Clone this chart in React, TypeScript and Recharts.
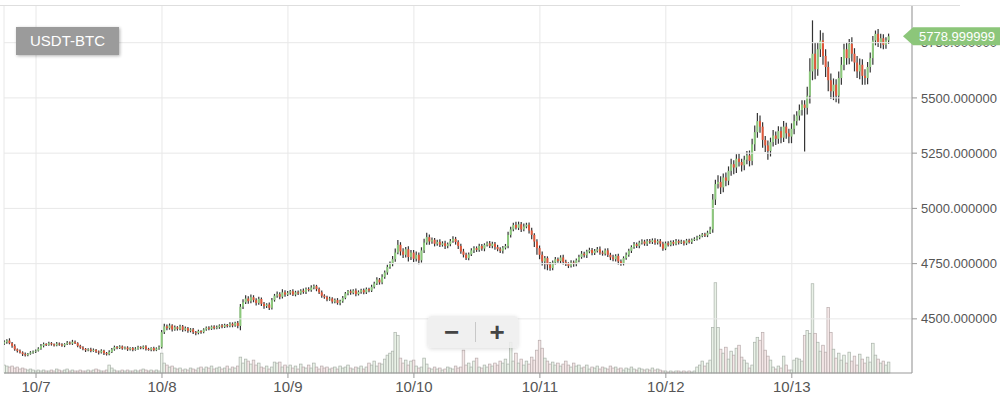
import { ComposedChart, Bar, XAxis, YAxis, CartesianGrid, ReferenceLine } from 'recharts'

// 30-minute candles, first one at 10/6 18:00 (hour -6 relative to 10/7 00:00)
const pair = 'USDT-BTC'
const lastPrice = 5778.999999
const firstOpen = 4388
const startHour = -6
const stepHours = 0.5

const dayTicks = [0, 24, 48, 72, 96, 120, 144]
const dayLabels = ['10/7', '10/8', '10/9', '10/10', '10/11', '10/12', '10/13']
const priceTicks = [4500, 4750, 5000, 5250, 5500, 5750]

const closeOct6 = [4395, 4402, 4390, 4378, 4362, 4355, 4348, 4340, 4336, 4342, 4348, 4352]
const closeOct7 = [
  4356, 4365, 4378, 4386, 4382, 4390, 4385, 4380, 4388, 4384, 4379, 4386, 4392, 4388, 4396, 4390,
  4378, 4370, 4364, 4358, 4362, 4355, 4360, 4352, 4348, 4356, 4345, 4340, 4350, 4362, 4372, 4368,
  4375, 4366, 4370, 4362, 4368, 4360, 4365, 4372, 4368, 4375, 4364, 4360, 4368, 4358, 4366, 4372,
]
const closeOct8 = [
  4440, 4466, 4458, 4470, 4452, 4462, 4455, 4466, 4450, 4458, 4446, 4452, 4440, 4436, 4445, 4440,
  4452, 4460, 4455, 4465, 4458, 4462, 4470, 4464, 4472, 4468, 4478, 4470, 4482, 4468, 4555, 4575,
  4592, 4580, 4598, 4585, 4572, 4590, 4568, 4558, 4565, 4550, 4585, 4605, 4612, 4600, 4620, 4610,
]
const closeOct9 = [
  4618, 4625, 4610, 4620, 4615, 4628, 4622, 4635, 4630, 4642, 4648, 4635, 4620, 4605, 4598, 4588,
  4592, 4578, 4585, 4572, 4580, 4595, 4615, 4625, 4618, 4628, 4612, 4622, 4630, 4620, 4635, 4628,
  4645, 4660, 4678, 4665, 4690, 4710, 4735, 4748, 4770, 4800, 4835, 4805, 4790, 4815, 4780, 4800,
]
const closeOct10 = [
  4772, 4790, 4765, 4810, 4845, 4870, 4850, 4858, 4840, 4848, 4835, 4842, 4830, 4838, 4852, 4862,
  4848, 4830, 4805, 4790, 4775, 4792, 4810, 4820, 4812, 4830, 4818, 4835, 4842, 4830, 4840, 4825,
  4815, 4808, 4822, 4830, 4880, 4905, 4925, 4912, 4928, 4905, 4918, 4926, 4900, 4880, 4850, 4820,
]
const closeOct11 = [
  4790, 4760, 4775, 4745, 4730, 4755, 4770, 4762, 4778, 4758, 4748, 4740, 4755, 4748, 4765, 4780,
  4795, 4788, 4805, 4812, 4798, 4808, 4815, 4800, 4795, 4810, 4790, 4778, 4770, 4785, 4760, 4752,
  4775, 4790, 4808, 4825, 4838, 4830, 4845, 4850, 4840, 4852, 4848, 4856, 4845, 4852, 4840, 4818,
]
const closeOct12 = [
  4842, 4835, 4848, 4840, 4852, 4845, 4850, 4842, 4855, 4848, 4858, 4862, 4868, 4875, 4882, 4878,
  4890, 4905, 5040, 5110, 5120, 5095, 5140, 5125, 5170, 5200, 5185, 5225, 5210, 5195, 5220, 5240,
  5215, 5290, 5345, 5395, 5370, 5310, 5285, 5260, 5300, 5330, 5315, 5350, 5320, 5370, 5340, 5325,
]
const closeOct13 = [
  5360, 5395, 5420, 5445, 5470, 5455, 5510, 5620, 5700, 5630, 5720, 5760, 5690, 5640, 5580, 5530,
  5560, 5510, 5590, 5650, 5720, 5680, 5745, 5700, 5660, 5620, 5650, 5600, 5590, 5640, 5680, 5760,
  5790, 5750, 5770, 5740, 5760, 5779,
]

// wick length above / below the body
const wickUpOct6 = [8, 6, 10, 5, 7, 4, 6, 5, 8, 4, 6, 5]
const wickUpOct7 = [
  5, 6, 8, 7, 4, 6, 5, 4, 7, 5, 6, 4, 8, 5, 9, 6, 4, 5, 6, 4, 5, 7, 6, 4,
  5, 6, 4, 5, 8, 6, 7, 5, 6, 4, 5, 6, 4, 5, 7, 6, 4, 5, 6, 5, 4, 6, 5, 7,
]
const wickUpOct8 = [
  10, 12, 8, 9, 6, 8, 5, 7, 6, 8, 5, 6, 7, 5, 6, 4, 6, 5, 7, 5, 6, 8, 5, 7,
  6, 5, 7, 6, 5, 8, 12, 14, 15, 10, 12, 9, 8, 10, 7, 8, 6, 9, 10, 8, 12, 9, 14, 10,
]
const wickUpOct9 = [
  8, 6, 9, 7, 8, 6, 9, 7, 8, 10, 8, 6, 7, 8, 6, 7, 8, 6, 7, 9, 6, 8, 7, 6,
  8, 6, 9, 7, 6, 8, 7, 6, 9, 8, 10, 7, 12, 9, 10, 12, 14, 18, 22, 12, 15, 10, 14, 12,
]
const wickUpOct10 = [
  12, 15, 10, 14, 18, 20, 12, 10, 8, 10, 12, 9, 11, 8, 10, 12, 9, 8, 10, 12, 9, 8, 10, 9,
  8, 10, 9, 7, 8, 10, 9, 8, 10, 9, 8, 9, 14, 12, 10, 15, 12, 10, 14, 9, 10, 12, 8, 10,
]
const wickUpOct11 = [
  12, 15, 10, 8, 12, 9, 10, 8, 10, 12, 9, 8, 10, 9, 8, 10, 12, 9, 8, 10, 9, 8, 10, 12,
  9, 8, 10, 9, 12, 8, 10, 9, 8, 10, 9, 8, 10, 8, 9, 10, 8, 9, 10, 8, 9, 8, 10, 9,
]
const wickUpOct12 = [
  8, 9, 7, 8, 9, 7, 8, 6, 7, 8, 6, 7, 8, 6, 7, 8, 9, 12, 25, 20, 30, 25, 18, 22,
  20, 25, 18, 20, 22, 15, 18, 20, 22, 25, 30, 37, 25, 20, 18, 22, 20, 25, 18, 22, 20, 25, 18, 20,
]
const wickUpOct13 = [
  25, 30, 20, 25, 20, 20, 40, 60, 151, 50, 30, 46, 35, 30, 25, 30, 28, 25, 30, 35, 25, 30, 22, 30,
  25, 30, 28, 25, 30, 22, 25, 20, 15, 22, 20, 18, 15, 12,
]

const wickDnOct6 = [6, 8, 5, 9, 6, 7, 5, 8, 6, 5, 4, 6]
const wickDnOct7 = [
  6, 4, 5, 7, 5, 4, 6, 5, 4, 6, 5, 7, 4, 5, 6, 4, 7, 5, 6, 8, 5, 6, 4, 7,
  9, 5, 8, 6, 5, 4, 6, 5, 4, 6, 5, 7, 5, 6, 4, 5, 6, 5, 7, 4, 6, 5, 4, 6,
]
const wickDnOct8 = [
  6, 8, 10, 7, 9, 6, 8, 7, 8, 6, 9, 7, 8, 10, 6, 7, 5, 6, 7, 5, 6, 5, 7, 6,
  5, 7, 6, 8, 6, 10, 20, 10, 8, 12, 9, 10, 12, 8, 10, 12, 9, 10, 8, 7, 9, 11, 8, 10,
]
const wickDnOct9 = [
  7, 9, 6, 8, 7, 6, 8, 9, 6, 7, 8, 10, 8, 9, 7, 8, 6, 9, 7, 8, 10, 7, 6, 8,
  9, 7, 10, 6, 8, 9, 7, 8, 6, 8, 7, 10, 8, 9, 10, 8, 10, 12, 8, 18, 15, 12, 20, 14,
]
const wickDnOct10 = [
  15, 12, 18, 10, 12, 9, 14, 10, 12, 9, 10, 8, 14, 10, 9, 8, 12, 14, 10, 12, 9, 10, 8, 12,
  9, 8, 10, 12, 8, 9, 10, 12, 9, 10, 12, 8, 10, 12, 9, 8, 10, 12, 9, 8, 14, 20, 25, 30,
]
const wickDnOct11 = [
  20, 18, 35, 25, 12, 10, 9, 8, 10, 12, 9, 10, 8, 12, 10, 9, 8, 10, 12, 8, 10, 9, 8, 10,
  9, 8, 10, 12, 9, 10, 14, 12, 10, 8, 9, 10, 8, 9, 10, 8, 9, 10, 8, 9, 10, 8, 14, 10,
]
const wickDnOct12 = [
  7, 8, 6, 9, 7, 8, 6, 10, 8, 7, 9, 6, 7, 8, 6, 7, 8, 6, 15, 25, 20, 30, 22, 25,
  20, 22, 30, 25, 20, 28, 22, 20, 25, 20, 30, 25, 28, 35, 30, 40, 25, 20, 28, 22, 25, 20, 25, 30,
]
const wickDnOct13 = [
  30, 25, 20, 22, 25, 198, 30, 35, 40, 45, 30, 35, 40, 45, 50, 35, 40, 30, 35, 30, 25, 30, 28, 35,
  40, 30, 35, 40, 30, 28, 25, 30, 22, 20, 25, 20, 18, 15,
]

const volOct6 = [8, 7, 6, 7, 5, 6, 4, 5, 4, 3, 4, 3]
const volOct7 = [
  2, 3, 2, 3, 2, 2, 3, 2, 4, 3, 2, 3, 4, 2, 3, 2, 2, 3, 2, 2, 3, 2, 3, 4,
  3, 2, 2, 3, 8, 5, 3, 2, 2, 3, 2, 3, 2, 2, 3, 2, 3, 4, 3, 2, 3, 2, 3, 2,
]
const volOct8 = [
  20, 10, 8, 6, 7, 5, 4, 5, 3, 4, 3, 5, 4, 3, 5, 6, 4, 6, 5, 7, 4, 5, 6, 4,
  5, 7, 4, 6, 5, 7, 16, 10, 14, 12, 9, 13, 8, 10, 6, 5, 7, 4, 6, 11, 10, 11, 6, 8,
]
const volOct9 = [
  6, 8, 5, 7, 4, 9, 6, 5, 8, 5, 10, 6, 4, 7, 5, 6, 4, 5, 6, 4, 7, 5, 6, 8,
  5, 4, 6, 5, 7, 4, 6, 10, 8, 12, 7, 10, 9, 14, 18, 20, 22, 41, 38, 15, 10, 13, 8, 12,
]
const volOct10 = [
  13, 7, 5, 6, 15, 9, 5, 4, 6, 4, 5, 3, 4, 6, 5, 4, 7, 5, 6, 23, 8, 10, 6, 12,
  15, 6, 5, 8, 6, 9, 7, 10, 8, 12, 10, 14, 9, 31, 12, 20, 10, 14, 8, 12, 9, 16, 13, 23,
]
const volOct11 = [
  33, 25, 15, 12, 9, 11, 8, 10, 7, 9, 12, 8, 6, 10, 7, 8, 5, 6, 8, 4, 6, 5, 7, 4,
  6, 5, 4, 7, 5, 6, 4, 5, 3, 5, 4, 6, 4, 3, 5, 4, 3, 4, 3, 5, 3, 4, 3, 2,
]
const volOct12 = [
  2, 1, 2, 1, 2, 2, 1, 2, 1, 2, 1, 2, 6, 8, 12, 7, 10, 13, 46, 91, 46, 24, 20, 26,
  14, 22, 18, 25, 28, 16, 13, 10, 5, 8, 31, 36, 33, 41, 23, 17, 13, 6, 4, 7, 5, 17, 8, 3,
]
const volOct13 = [
  3, 13, 15, 14, 12, 38, 43, 40, 90, 40, 31, 22, 28, 21, 66, 41, 24, 15, 20, 13, 18, 10, 21, 12,
  17, 8, 19, 14, 10, 16, 11, 30, 18, 14, 10, 12, 8, 11,
]

const closes = [...closeOct6, ...closeOct7, ...closeOct8, ...closeOct9, ...closeOct10, ...closeOct11, ...closeOct12, ...closeOct13]
const wickUp = [...wickUpOct6, ...wickUpOct7, ...wickUpOct8, ...wickUpOct9, ...wickUpOct10, ...wickUpOct11, ...wickUpOct12, ...wickUpOct13]
const wickDn = [...wickDnOct6, ...wickDnOct7, ...wickDnOct8, ...wickDnOct9, ...wickDnOct10, ...wickDnOct11, ...wickDnOct12, ...wickDnOct13]
const volumes = [...volOct6, ...volOct7, ...volOct8, ...volOct9, ...volOct10, ...volOct11, ...volOct12, ...volOct13]

const data = closes.map((close, i) => {
  const open = i === 0 ? firstOpen : closes[i - 1]
  const high = Math.max(open, close) + wickUp[i]
  const low = Math.min(open, close) - wickDn[i]
  return { t: startHour + i * stepHours, open, close, high, low, range: [low, high], vol: volumes[i] }
})

const UP = '#8cc97c'
const DOWN = '#e0583b'

function Candle(props: any) {
  const { x, y, width, height, payload } = props
  if (!payload || height == null) return null
  const { open, close, high, low } = payload
  const cx = x + width / 2
  const k = height / (high - low)
  const yO = y + (high - open) * k
  const yC = y + (high - close) * k
  const top = Math.min(yO, yC)
  const bh = Math.max(Math.abs(yO - yC), 1)
  return (
    <g>
      <line x1={cx} x2={cx} y1={y} y2={y + height} stroke="#333" strokeWidth={1.2} />
      <rect x={cx - 1} y={top} width={2} height={bh} fill={close >= open ? UP : DOWN} />
    </g>
  )
}

function VolumeBar(props: any) {
  const { x, y, width, height, payload } = props
  if (!payload || height == null) return null
  const cx = x + width / 2
  const up = payload.close >= payload.open
  return (
    <rect
      x={cx - 1.3}
      y={y}
      width={2.6}
      height={height}
      fill={up ? '#e9f1e7' : '#f4e7e7'}
      stroke={up ? '#aab2aa' : '#b8acac'}
      strokeWidth={0.7}
    />
  )
}

// price axis tick; the last-price tick is drawn as the green tag, after (over) the others
function PriceTick(props: any) {
  const { x, y, payload } = props
  if (x == null || y == null || !payload) return null
  if (payload.value === lastPrice) {
    const tipX = x - 18
    return (
      <g>
        <polygon
          points={`${tipX},${y} ${tipX + 10},${y - 9} 1000,${y - 9} 1000,${y + 9} ${tipX + 10},${y + 9}`}
          fill="#8cc67a"
        />
        <text x={tipX + 16} y={y} dy="0.355em" fill="#fff" fontSize={13}>
          {lastPrice.toFixed(6)}
        </text>
      </g>
    )
  }
  return (
    <text x={x} y={y} dy="0.355em" fill="#555" fontSize={13}>
      {Number(payload.value).toFixed(6)}
    </text>
  )
}

export default function App() {
  return (
    <div
      style={{
        position: 'fixed',
        left: 0,
        top: 0,
        width: 1000,
        height: 396,
        background: '#fff',
        fontFamily: '"Liberation Sans", Arial, sans-serif',
        overflow: 'hidden',
      }}
    >
      <div style={{ position: 'absolute', left: 0, top: 5, width: 960, height: 1, background: '#dedede' }} />
      <ComposedChart
        width={1000}
        height={396}
        data={data}
        margin={{ top: 6, right: 0, left: 4, bottom: 0 }}
        barGap={-2}
        barCategoryGap={0}
      >
        <CartesianGrid stroke="#e8e8e8" horizontal={false} yAxisId="p" />
        {priceTicks.map((p) => (
          <ReferenceLine key={p} yAxisId="p" y={p} stroke="#e8e8e8" />
        ))}
        <XAxis
          dataKey="t"
          type="number"
          domain={[-6.1, 166.9]}
          allowDataOverflow
          ticks={dayTicks}
          tickFormatter={(v: number) => dayLabels[dayTicks.indexOf(v)]}
          tick={{ fontSize: 15, fill: '#555' }}
          axisLine={{ stroke: '#999' }}
          tickLine={{ stroke: '#999' }}
          tickSize={5}
          tickMargin={3}
          height={23}
        />
        <YAxis
          yAxisId="p"
          orientation="right"
          domain={[4255, 5916]}
          allowDataOverflow
          ticks={[...priceTicks, lastPrice]}
          tick={<PriceTick />}
          interval={0}
          axisLine={{ stroke: '#999' }}
          tickLine={{ stroke: '#999' }}
          tickSize={5}
          tickMargin={4}
          width={88}
        />
        <YAxis yAxisId="v" hide domain={[0, 370]} />
        <Bar yAxisId="v" dataKey="vol" barSize={2} shape={<VolumeBar />} isAnimationActive={false} />
        <Bar yAxisId="p" dataKey="range" barSize={2} shape={<Candle />} isAnimationActive={false} />
      </ComposedChart>

      <div
        style={{
          position: 'absolute',
          left: 16,
          top: 27,
          width: 103,
          height: 28,
          background: '#9b9b9b',
          color: '#fff',
          fontSize: 15,
          lineHeight: '28px',
          textAlign: 'center',
          boxShadow: '1px 1px 3px rgba(0,0,0,0.3)',
        }}
      >
        {pair}
      </div>

      <div
        style={{
          position: 'absolute',
          left: 428,
          top: 316,
          width: 90,
          height: 32,
          background: 'rgba(238,238,238,0.88)',
          borderRadius: 4,
          boxShadow: '0 1px 4px rgba(0,0,0,0.15)',
          display: 'flex',
          alignItems: 'center',
          color: '#444',
          fontWeight: 'bold',
          fontSize: 26,
        }}
      >
        <span style={{ width: 47, textAlign: 'center', lineHeight: '32px' }}>−</span>
        <span style={{ width: 1, height: 20, background: '#c8c8c8' }} />
        <span style={{ width: 42, textAlign: 'center', lineHeight: '32px' }}>+</span>
      </div>
    </div>
  )
}
